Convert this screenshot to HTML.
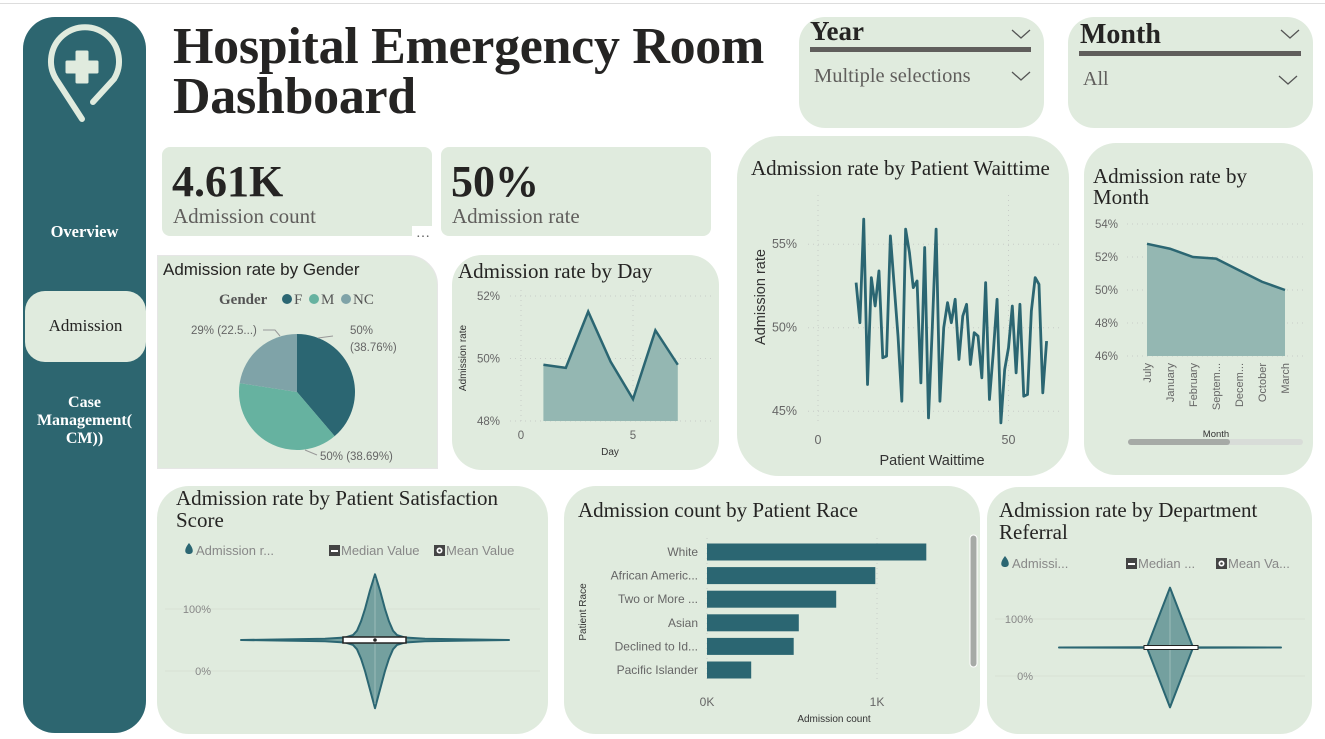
<!DOCTYPE html>
<html><head><meta charset="utf-8">
<style>
*{box-sizing:border-box;margin:0;padding:0}
body{width:1325px;height:739px;background:#fff;position:relative;overflow:hidden;font-family:"Liberation Serif",serif}
.p{position:absolute;background:#e0ebde}
.t{position:absolute;color:#252423;font-family:"Liberation Serif",serif;white-space:nowrap}
svg{position:absolute;left:0;top:0}
</style></head><body>
<div style="position:absolute;left:0;top:0;width:1325px;height:4px;border-bottom:1px solid #ddd"></div>
<div class="p" style="left:23px;top:17px;width:123px;height:716px;background:#2d6670;border-radius:32px"></div>
<div class="p" style="left:25px;top:291px;width:121px;height:71px;border-radius:20px;background:#e0ebde"></div>
<div class="t" style="left:23px;top:222px;width:123px;text-align:center;color:#fff;font-size:16.5px;font-weight:bold">Overview</div>
<div class="t" style="left:25px;top:316px;width:121px;text-align:center;font-size:17px">Admission</div>
<div class="t" style="left:23px;top:394px;width:123px;text-align:center;color:#fff;font-size:16px;font-weight:bold;line-height:18px">Case<br>Management(<br>CM))</div>

<div class="t" style="left:173px;top:22px;font-size:52px;font-weight:bold;line-height:50px;letter-spacing:-0.3px">Hospital Emergency Room<br>Dashboard</div>

<div class="p" style="left:799px;top:17px;width:245px;height:111px;border-radius:26px"></div>
<div class="t" style="left:810px;top:16px;font-size:27px;font-weight:bold">Year</div>
<div style="position:absolute;left:810px;top:47px;width:221px;height:5px;background:#605e5c"></div>
<div class="t" style="left:814px;top:65px;font-size:20.5px;color:#605e5c">Multiple selections</div>
<div class="p" style="left:1068px;top:17px;width:245px;height:111px;border-radius:26px"></div>
<div class="t" style="left:1080px;top:19px;font-size:28px;font-weight:bold">Month</div>
<div style="position:absolute;left:1079px;top:51px;width:222px;height:5px;background:#605e5c"></div>
<div class="t" style="left:1083px;top:68px;font-size:20px;color:#605e5c">All</div>

<div class="p" style="left:162px;top:147px;width:270px;height:89px;border-radius:8px"></div>
<div class="t" style="left:172px;top:156px;font-size:44px;font-weight:bold">4.61K</div>
<div class="t" style="left:173px;top:204px;font-size:21px;color:#605e5c">Admission count</div>
<div class="t" style="left:412px;top:226px;font-size:14px;color:#555;background:#fff;width:22px;text-align:center">…</div>
<div class="p" style="left:441px;top:147px;width:270px;height:89px;border-radius:8px"></div>
<div class="t" style="left:451px;top:156px;font-size:44px;font-weight:bold">50%</div>
<div class="t" style="left:452px;top:204px;font-size:21px;color:#605e5c">Admission rate</div>

<div class="p" style="left:157px;top:255px;width:281px;height:214px;border:1px solid #e6e6e6;border-radius:0 30px 0 0"></div>
<div class="p" style="left:452px;top:255px;width:267px;height:215px;border-radius:30px"></div>
<div class="p" style="left:737px;top:136px;width:332px;height:340px;border-radius:42px"></div>
<div class="p" style="left:1084px;top:143px;width:229px;height:332px;border-radius:32px"></div>
<div class="p" style="left:157px;top:486px;width:391px;height:248px;border-radius:32px"></div>
<div class="p" style="left:564px;top:486px;width:416px;height:248px;border-radius:32px"></div>
<div class="p" style="left:987px;top:487px;width:325px;height:247px;border-radius:32px"></div>

<div class="t" style="left:163px;top:260px;font-family:'Liberation Sans',sans-serif;font-size:17px">Admission rate by Gender</div>
<div class="t" style="left:458px;top:259px;font-size:21px">Admission rate by Day</div>
<div class="t" style="left:751px;top:156px;font-size:21px">Admission rate by Patient Waittime</div>
<div class="t" style="left:1093px;top:166px;font-size:21px;line-height:21px">Admission rate by<br>Month</div>
<div class="t" style="left:176px;top:487px;font-size:21px;line-height:22px">Admission rate by Patient Satisfaction<br>Score</div>
<div class="t" style="left:578px;top:498px;font-size:21px">Admission count by Patient Race</div>
<div class="t" style="left:999px;top:499px;font-size:21px;line-height:22px">Admission rate by Department<br>Referral</div>

<svg id="s" width="1325" height="739" font-family="Liberation Sans, DejaVu Sans, sans-serif"></svg>

<script>
// ---- data ----
const genderCats=['F','M','NC'];
const genderShare=[38.76,38.69,22.55];
const genderLabels=['50% (38.76%)','50% (38.69%)','29% (22.5...)'];
const dayVals=[49.8,49.7,51.5,49.9,48.7,50.9,49.8];
const dayTicks=[48,50,52];
const waitX=[10,11,12,13,14,15,16,17,18,19,20,21,22,23,24,25,26,27,28,29,30,31,32,33,34,35,36,37,38,39,40,41,42,43,44,45,46,47,48,49,50,51,52,53,54,55,56,57,58,59,60];
const waitVals=[52.7,50.3,56.5,46.6,53.0,51.3,53.4,48.2,48.3,55.5,52.5,49.5,45.6,55.9,54.5,52.4,52.8,46.7,54.8,44.6,50.0,55.9,45.6,50.0,51.5,50.3,51.7,48.1,50.7,51.4,47.8,49.7,49.5,47.0,52.7,45.7,48.5,51.7,44.3,47.5,48.8,51.3,47.3,51.4,45.9,46.0,51.0,53.0,52.6,46.1,49.2];
const waitTicks=[45,50,55];
const monthCats=['July','January','February','Septem...','Decem...','October','March'];
const monthVals=[52.8,52.5,52.0,51.9,51.2,50.5,50.0];
const monthTicks=[46,48,50,52,54];
const raceCats=['White','African Americ...','Two or More ...','Asian','Declined to Id...','Pacific Islander'];
const raceVals=[1290,990,760,540,510,260];
const satProfileV=[156,130,100,80,65,58,54,52,51,50,49,48,46,42,35,20,0,-30,-60];
const satProfileW=[0,5,10,14,18,22,30,50,90,134,90,50,30,22,18,14,10,5,0];
const depProfileV=[155,50.5,50,49.5,-55];
const depProfileW=[0,23,111,23,0];

const S=document.getElementById('s');const NS='http://www.w3.org/2000/svg';
function mk(tag,at,txt){const e=document.createElementNS(NS,tag);for(const k in at)e.setAttribute(k,at[k]);if(txt!==undefined)e.textContent=txt;S.appendChild(e);return e;}
const TEAL='#2b6672',FILL='#94b7b2',GRID='#c8ccc8',TXT='#666';

// chevrons
[[1012,30],[1012,72],[1281,30],[1279,76]].forEach(p=>{const e=mk('path',{d:`M${p[0]} ${p[1]}l9 8l9 -8`,fill:'none',stroke:'#555','stroke-width':1.3});});
// logo
(function(){const g=mk('path',{d:'M93 102 L114 79 A34 34 0 1 0 56 79 L82 119',fill:'none',stroke:'#e0ebde','stroke-width':6,'stroke-linecap':'round','stroke-linejoin':'round'});
const c=mk('path',{d:'M77 52h10v10h10v10h-10v10h-10v-10h-10v-10h10z',fill:'#e0ebde','stroke':'#e0ebde','stroke-width':3,'stroke-linejoin':'round'});})();

// ---- gender pie ----
(function(){
 const t=mk('text',{x:219,y:304,'font-family':'Liberation Serif,serif','font-size':15,'font-weight':'bold',fill:'#555'},'Gender');
 const cols=['#2b6672','#66b2a0','#7fa3a8'];const lx=[282,309,341];
 genderCats.forEach((c,i)=>{const d=mk('circle',{cx:lx[i]+5,cy:299,r:5,fill:cols[i]});
  const tt=mk('text',{x:lx[i]+12,y:304,'font-family':'Liberation Serif,serif','font-size':15,fill:'#555'},c);});
 const cx=297,cy=392,r=58;const tot=genderShare.reduce((a,b)=>a+b,0);let a0=0;
 genderShare.forEach((v,i)=>{const a1=a0+v/tot*2*Math.PI;const x0=cx+r*Math.sin(a0),y0=cy-r*Math.cos(a0),x1=cx+r*Math.sin(a1),y1=cy-r*Math.cos(a1);
  const p=mk('path',{d:`M${cx} ${cy}L${x0} ${y0}A${r} ${r} 0 ${a1-a0>Math.PI?1:0} 1 ${x1} ${y1}Z`,fill:cols[i]});a0=a1;});
 const l1=mk('text',{x:350,y:334,'font-size':11.5,fill:TXT},'50%');
 const l1b=mk('text',{x:350,y:351,'font-size':11.5,fill:TXT},'('+genderLabels[0].split('(')[1]);
 const l2=mk('text',{x:320,y:460,'font-size':11.5,fill:TXT},genderLabels[1]);
 const l3=mk('text',{x:191,y:334,'font-size':11.5,fill:TXT},genderLabels[2]);
 ['M318 338L333 336','M305 450L317 455','M263 330L275 330L280 336'].forEach(d=>{const e=mk('path',{d,fill:'none',stroke:'#999','stroke-width':1});});
})();

// ---- day area ----
(function(){
 const x=v=>521+v*22.4, y=v=>421-(v-48)*31.25;
 dayTicks.forEach(t=>{const g=mk('line',{x1:510,x2:712,y1:y(t),y2:y(t),stroke:GRID,'stroke-dasharray':'1 4'});
  const l=mk('text',{x:500,y:y(t)+4,'font-size':11.5,fill:TXT,'text-anchor':'end'},t+'%');});
 [0,5].forEach(t=>{const g=mk('line',{x1:x(t),x2:x(t),y1:290,y2:421,stroke:GRID,'stroke-dasharray':'1 4'});
  const l=mk('text',{x:x(t),y:439,'font-size':11.5,fill:TXT,'text-anchor':'middle'},t);});
 let pts=dayVals.map((v,i)=>x(i+1)+','+y(v)).join(' ');
 const a=mk('polygon',{points:x(1)+','+y(48)+' '+pts+' '+x(dayVals.length)+','+y(48),fill:FILL});
 const l=mk('polyline',{points:pts,fill:'none',stroke:TEAL,'stroke-width':2.5});
 const yt=mk('text',{x:0,y:0,'font-size':10,fill:'#333',transform:'translate(466 358) rotate(-90)','text-anchor':'middle'},'Admission rate');
 const xt=mk('text',{x:610,y:455,'font-size':10,fill:'#333','text-anchor':'middle'},'Day');
})();

// ---- waittime line ----
(function(){
 const x=v=>818+v*3.81, y=v=>327.7-(v-50)*16.7;
 waitTicks.forEach(t=>{const g=mk('line',{x1:808,x2:1060,y1:y(t),y2:y(t),stroke:GRID,'stroke-dasharray':'1 4'});
  const l=mk('text',{x:797,y:y(t)+4,'font-size':12.5,fill:TXT,'text-anchor':'end'},t+'%');});
 [0,50].forEach(t=>{const g=mk('line',{x1:x(t),x2:x(t),y1:195,y2:425,stroke:GRID,'stroke-dasharray':'1 4'});
  const l=mk('text',{x:x(t),y:444,'font-size':12.5,fill:TXT,'text-anchor':'middle'},t);});
 const l=mk('polyline',{points:waitVals.map((v,i)=>x(waitX[i])+','+y(v)).join(' '),fill:'none',stroke:TEAL,'stroke-width':2.8,'stroke-linejoin':'round'});
 const yt=mk('text',{x:0,y:0,'font-size':14.5,fill:'#333',transform:'translate(765 297) rotate(-90)','text-anchor':'middle'},'Admission rate');
 const xt=mk('text',{x:932,y:465,'font-size':14.5,fill:'#333','text-anchor':'middle'},'Patient Waittime');
})();

// ---- month area ----
(function(){
 const x=i=>1147+i*23, y=v=>356-(v-46)*16.5;
 monthTicks.forEach(t=>{const g=mk('line',{x1:1127,x2:1305,y1:y(t),y2:y(t),stroke:GRID,'stroke-dasharray':'1 4'});
  const l=mk('text',{x:1118,y:y(t)+4,'font-size':11.5,fill:TXT,'text-anchor':'end'},t+'%');});
 const pts=monthVals.map((v,i)=>x(i)+','+y(v)).join(' ');
 const a=mk('polygon',{points:x(0)+','+y(46)+' '+pts+' '+x(monthVals.length-1)+','+y(46),fill:FILL});
 const l=mk('polyline',{points:pts,fill:'none',stroke:TEAL,'stroke-width':2.5});
 monthCats.forEach((c,i)=>{const t=mk('text',{x:0,y:0,'font-size':11,fill:TXT,'text-anchor':'end',transform:`translate(${x(i)+4} 363) rotate(-90)`},c);});
 const xt=mk('text',{x:1216,y:437,'font-size':9.5,fill:'#333','text-anchor':'middle'},'Month');
 const tr=mk('rect',{x:1128,y:439,width:175,height:6,rx:3,fill:'#d8dcd8'});
 const th=mk('rect',{x:1128,y:439,width:102,height:6,rx:3,fill:'#a6aaa6'});
})();

// ---- violins ----
function violin(pre,cx,y0,y100,profV,profW,ticks,tx,xl,xr){
 const y=v=>y0-(v/100)*(y0-y100);
 ticks.forEach(t=>{const g=mk('line',{x1:xl,x2:xr,y1:y(t),y2:y(t),stroke:'#d7e2d4','stroke-width':1});
  const l=mk('text',{x:tx,y:y(t)+4,'font-size':11,fill:'#888','text-anchor':'end'},t+'%');});
 let d='M'+profV.map((v,i)=>(cx+profW[i])+' '+y(v)).join(' L ');
 for(let i=profV.length-1;i>=0;i--)d+=' L '+(cx-profW[i])+' '+y(profV[i]);
 const p=mk('path',{d:d+'Z',fill:'#74a09f',stroke:TEAL,'stroke-width':2,'stroke-linejoin':'round'});
 const ax=mk('line',{x1:cx,x2:cx,y1:y(profV[0])+4,y2:y(profV[profV.length-1])-4,stroke:'#9bbcb8','stroke-width':1});
 return y;
}
function legendItems(pre,items){items.forEach(it=>{
  if(it.k==='drop'){const e=mk('path',{d:`M${it.x} ${it.y-8}C${it.x+5} ${it.y-2} ${it.x+5} ${it.y+3} ${it.x} ${it.y+3}C${it.x-5} ${it.y+3} ${it.x-5} ${it.y-2} ${it.x} ${it.y-8}Z`,fill:TEAL});}
  else{const e=mk('rect',{x:it.x-5,y:it.y-6,width:11,height:11,fill:'#444'});
   if(it.k==='med'){const w=mk('rect',{x:it.x-3,y:it.y-1,width:7,height:2,fill:'#fff'});}
   else{const w=mk('circle',{cx:it.x+0.5,cy:it.y-0.5,r:3,fill:'#fff'});const w2=mk('circle',{cx:it.x+0.5,cy:it.y-0.5,r:1.3,fill:'#444'});}}
  const t=mk('text',{x:it.x+7,y:it.y+4,'font-size':13,fill:'#888'},it.t);});}
(function(){
 const y=violin('satisfaction',375,671,609,satProfileV,satProfileW,[0,100],211,165,540);
 const b=mk('rect',{x:343,y:y(50)-3,width:63,height:6,fill:'#fff',stroke:'#222','stroke-width':1.5});
 const m=mk('circle',{cx:375,cy:y(50),r:1.8,fill:'#222'});
 legendItems('satisfaction',[{k:'drop',x:189,y:551,t:'Admission r...'},{k:'med',x:334,y:551,t:'Median Value'},{k:'mean',x:439,y:551,t:'Mean Value'}]);
})();
(function(){
 const y=violin('department',1170,676,619,depProfileV,depProfileW,[0,100],1033,995,1305);
 const b=mk('rect',{x:1144,y:y(50)-2,width:54,height:4,fill:'#fff',stroke:'#222','stroke-width':1});
 legendItems('department',[{k:'drop',x:1005,y:564,t:'Admissi...'},{k:'med',x:1131,y:564,t:'Median ...'},{k:'mean',x:1221,y:564,t:'Mean Va...'}]);
})();

// ---- race bars ----
(function(){
 const x=v=>707+v*0.17; const y0=552, step=23.6;
 [0,1000].forEach(t=>{const g=mk('line',{x1:x(t),x2:x(t),y1:538,y2:682,stroke:GRID,'stroke-dasharray':'1 4'});
  const l=mk('text',{x:x(t),y:706,'font-size':12,fill:TXT,'text-anchor':'middle'},(t/1000)+'K');});
 raceCats.forEach((c,i)=>{const cy=y0+i*step;
  const r=mk('rect',{x:x(0),y:cy-8.5,width:x(raceVals[i])-x(0),height:17,fill:TEAL});
  const t=mk('text',{x:698,y:cy+4,'font-size':12,fill:TXT,'text-anchor':'end'},c);});
 const yt=mk('text',{x:0,y:0,'font-size':10,fill:'#333','text-anchor':'middle',transform:'translate(586 612) rotate(-90)'},'Patient Race');
 const xt=mk('text',{x:834,y:722,'font-size':10,fill:'#333','text-anchor':'middle'},'Admission count');
 const sb=mk('rect',{x:970,y:535,width:7,height:132,rx:3.5,fill:'#a6aaa6',stroke:'#fff','stroke-width':1});
})();
</script>
</body></html>
